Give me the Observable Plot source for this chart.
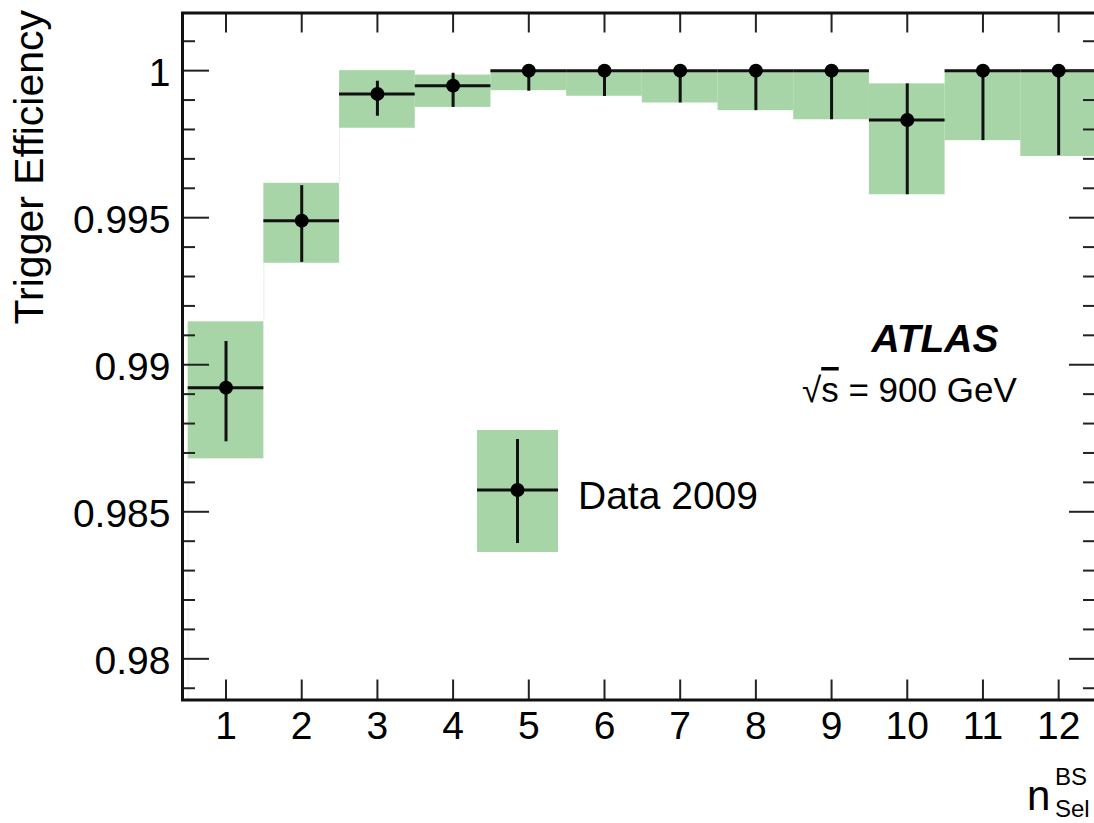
<!DOCTYPE html>
<html><head><meta charset="utf-8">
<script src="https://cdn.jsdelivr.net/npm/d3@7"></script>
<script src="https://cdn.jsdelivr.net/npm/@observablehq/plot@0.6"></script>
<style>html,body{margin:0;padding:0;overflow:hidden;background:#fff}</style>
</head><body><div id="chart"></div>
<script>
// ---- data ----
const bins       = [1, 2, 3, 4, 5, 6, 7, 8, 9, 10, 11, 12];
const efficiency = [0.98922, 0.99490, 0.99921, 0.99949, 1, 1, 1, 1, 1, 0.99832, 1, 1];
const errLow     = [0.98738, 0.99348, 0.99845, 0.99875, 0.99930, 0.99912, 0.99890, 0.99864, 0.99833, 0.99578, 0.99762, 0.99711];
const errHigh    = [0.99079, 0.99609, 0.99964, 0.99991, 1, 1, 1, 1, 1, 0.99955, 1, 1];
const bandLow    = [0.98680, 0.99345, 0.99804, 0.99875, 0.99932, 0.99913, 0.99890, 0.99864, 0.99833, 0.99578, 0.99762, 0.99708];
const bandHigh   = [0.99146, 0.99617, 1.00000, 0.99985, 1, 1, 1, 1, 1, 0.99955, 1, 1];
const xTicks     = [1, 2, 3, 4, 5, 6, 7, 8, 9, 10, 11, 12];
const yMajorTicks = [0.98, 0.985, 0.99, 0.995, 1];
const yMinorTicks = d3.range(979, 1002).filter(v => v % 5 !== 0).map(v => v / 1000);

const W = 1094, H = 823, mL = 182, mT = 12.5, mB = 123.5, mR = -2;
const pw = W - mL - mR, ph = H - mT - mB;
const green = "#a8d5a8";

const rows = bins.map((b, i) => ({
  bin: b, x1: b - 0.5, x2: b + 0.5, eff: efficiency[i],
  lo: errLow[i], hi: errHigh[i], blo: bandLow[i], bhi: bandHigh[i]
}));
const yMin = 0.9786;
const steps = [{x: rows[0].x1, y1: yMin, y2: rows[0].blo}].concat(
  rows.slice(1).map((r, i) => {
    const p = rows[i];
    return {x: r.x1, y1: Math.min(p.bhi, r.bhi), y2: Math.max(p.blo, r.blo)};
  })
);

const plot = Plot.plot({
  width: W, height: H,
  marginLeft: mL, marginRight: mR, marginTop: mT, marginBottom: mB,
  style: {fontFamily: "'Liberation Sans', Arial, sans-serif", color: "#000", background: "#fff"},
  x: {domain: [0.425, 12.5], label: null},
  y: {domain: [yMin, 1.00196], label: null},
  marks: [
    Plot.ruleX(steps, {x: "x", y1: "y1", y2: "y2", stroke: green, strokeOpacity: 0.3, strokeWidth: 1}),
    Plot.rect(rows, {x1: "x1", x2: "x2", y1: "blo", y2: "bhi", fill: green}),
    Plot.ruleY(rows, {y: "eff", x1: "x1", x2: "x2", stroke: "#111", strokeWidth: 3}),
    Plot.ruleX(rows, {x: "bin", y1: "lo", y2: "hi", stroke: "#111", strokeWidth: 3}),
    Plot.dot(rows, {x: "bin", y: "eff", r: 7, fill: "#000", stroke: null}),
    // inward ticks
    Plot.tickY(yMajorTicks, {y: d => d, insetRight: pw - 27, stroke: "#222", strokeWidth: 2}),
    Plot.tickY(yMajorTicks, {y: d => d, insetLeft: pw - 27, stroke: "#222", strokeWidth: 2}),
    Plot.tickY(yMinorTicks, {y: d => d, insetRight: pw - 13, stroke: "#222", strokeWidth: 2}),
    Plot.tickY(yMinorTicks, {y: d => d, insetLeft: pw - 13, stroke: "#222", strokeWidth: 2}),
    Plot.tickX(xTicks, {x: d => d, insetTop: ph - 20, stroke: "#222", strokeWidth: 2}),
    Plot.tickX(xTicks, {x: d => d, insetBottom: ph - 20, stroke: "#222", strokeWidth: 2}),
    Plot.axisY({ticks: yMajorTicks, tickSize: 0, tickPadding: 12, fontSize: 39, tickFormat: d => String(d), dy: 3, label: null}),
    Plot.axisX({ticks: xTicks, tickSize: 0, tickPadding: 11, fontSize: 39, tickFormat: d => String(d), label: null}),
    Plot.frame({stroke: "#111", strokeWidth: 3})
  ]
});
document.getElementById("chart").appendChild(plot);

// ---- annotations, legend, axis titles ----
const svg = d3.select(plot);
const g = svg.append("g")
  .attr("font-family", "'Liberation Sans', Arial, sans-serif")
  .attr("fill", "#000").attr("text-anchor", "start");
g.append("text").attr("transform", "translate(43,10) rotate(-90)")
  .attr("text-anchor", "end").attr("font-size", 41).text("Trigger Efficiency");

g.append("text").attr("x", 935).attr("y", 352).attr("text-anchor", "middle")
  .attr("font-size", 39).attr("font-weight", "bold").attr("font-style", "italic").text("ATLAS");

const sq = g.append("text").attr("x", 802).attr("y", 402).attr("font-size", 35);
sq.append("tspan").text("\u221A");
sq.append("tspan").attr("style", "text-decoration: overline").text("s");
sq.append("tspan").text(" = 900 GeV");

// legend
const lg = g.append("g");
lg.append("rect").attr("x", 477).attr("y", 430).attr("width", 81).attr("height", 122).attr("fill", green);
lg.append("line").attr("x1", 477).attr("x2", 558).attr("y1", 490).attr("y2", 490).attr("stroke", "#111").attr("stroke-width", 3);
lg.append("line").attr("x1", 517.5).attr("x2", 517.5).attr("y1", 439).attr("y2", 543).attr("stroke", "#111").attr("stroke-width", 3);
lg.append("circle").attr("cx", 517.5).attr("cy", 490).attr("r", 7).attr("fill", "#000");
lg.append("text").attr("x", 578).attr("y", 509).attr("font-size", 39).text("Data 2009");

// x axis title n^BS_Sel
g.append("text").attr("x", 1027).attr("y", 810).attr("font-size", 42).text("n");
g.append("text").attr("x", 1055).attr("y", 785).attr("font-size", 24).text("BS");
g.append("text").attr("x", 1055).attr("y", 817).attr("font-size", 24).text("Sel");
</script>
</body></html>
